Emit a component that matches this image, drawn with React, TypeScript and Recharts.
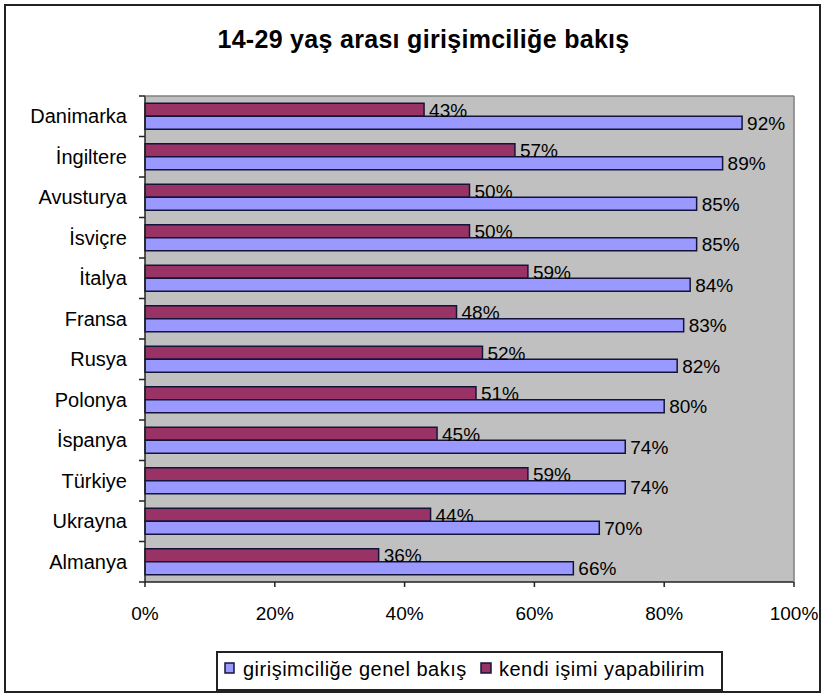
import React from 'react';
import { BarChart, Bar, XAxis, YAxis, CartesianGrid, LabelList } from 'recharts';

const countries = ['Danimarka', 'İngiltere', 'Avusturya', 'İsviçre', 'İtalya', 'Fransa', 'Rusya', 'Polonya', 'İspanya', 'Türkiye', 'Ukrayna', 'Almanya'];
const genelBakis = [92, 89, 85, 85, 84, 83, 82, 80, 74, 74, 70, 66];
const kendiIsim = [43, 57, 50, 50, 59, 48, 52, 51, 45, 59, 44, 36];
const xTicks = [0, 20, 40, 60, 80, 100];
const seriesNames = ['girişimciliğe genel bakış', 'kendi işimi yapabilirim'];
const title = '14-29 yaş arası girişimciliğe bakış';

const data = countries.map((c, i) => ({ country: c, genel: genelBakis[i], kendi: kendiIsim[i] }));

const FONT = '"Liberation Sans", Arial, sans-serif';
const BLUE = '#9999FF';
const MAROON = '#993366';
const OUTLINE = '#14143a';

const PLOT_LEFT = 145;
const PLOT_TOP = 96;
const PLOT_RIGHT = 794;
const PLOT_BOTTOM = 582;
const bandBoundaries = Array.from({ length: countries.length + 1 }, (_, i) => PLOT_TOP + (i * (PLOT_BOTTOM - PLOT_TOP)) / countries.length);

export default function App() {
  return (
    <div style={{ position: 'absolute', left: 0, top: 0, width: 825, height: 695, background: '#fff', fontFamily: FONT }}>
      <BarChart
        width={825}
        height={695}
        layout="vertical"
        data={data}
        margin={{ top: PLOT_TOP, right: 825 - PLOT_RIGHT, bottom: 63, left: 0 }}
        barCategoryGap="18%"
        barGap={0}
      >
        <CartesianGrid horizontal={false} vertical={false} fill="#C0C0C0" stroke="none" />
        <XAxis
          type="number"
          domain={[0, 100]}
          ticks={xTicks}
          tickFormatter={(v) => `${v}%`}
          height={50}
          tickSize={5}
          tickMargin={20}
          axisLine={{ stroke: '#222', strokeWidth: 1.5 }}
          tickLine={{ stroke: '#222', strokeWidth: 1.5 }}
          tick={{ fill: '#000', fontSize: 19, fontFamily: FONT }}
          interval={0}
        />
        <YAxis
          type="category"
          dataKey="country"
          width={PLOT_LEFT}
          tickSize={0}
          tickMargin={18}
          tickLine={false}
          axisLine={{ stroke: '#222', strokeWidth: 1.5 }}
          tick={{ fill: '#000', fontSize: 20, fontFamily: FONT }}
          interval={0}
        />
        <Bar dataKey="kendi" name={seriesNames[1]} fill={MAROON} stroke={OUTLINE} strokeWidth={1.5} isAnimationActive={false}>
          <LabelList dataKey="kendi" position="right" offset={5} formatter={(v) => `${v}%`} fill="#000" fontSize={19} fontFamily={FONT} />
        </Bar>
        <Bar dataKey="genel" name={seriesNames[0]} fill={BLUE} stroke={OUTLINE} strokeWidth={1.5} isAnimationActive={false}>
          <LabelList dataKey="genel" position="right" offset={5} formatter={(v) => `${v}%`} fill="#000" fontSize={19} fontFamily={FONT} />
        </Bar>
      </BarChart>
      <svg width={825} height={695} style={{ position: 'absolute', left: 0, top: 0, pointerEvents: 'none' }}>
        <rect x={5} y={5} width={815} height={687} fill="none" stroke="#222" strokeWidth={2} />
        <text x={423.5} y={48} textAnchor="middle" fontSize={25} fontWeight="bold" fontFamily={FONT} letterSpacing={0.3} fill="#000">
          {title}
        </text>
        <line x1={PLOT_LEFT} y1={PLOT_TOP} x2={PLOT_RIGHT} y2={PLOT_TOP} stroke="#808080" strokeWidth={1.5} />
        <line x1={PLOT_RIGHT} y1={PLOT_TOP} x2={PLOT_RIGHT} y2={PLOT_BOTTOM} stroke="#808080" strokeWidth={1.5} />
        {bandBoundaries.map((yy, i) => (
          <line key={i} x1={PLOT_LEFT - 6} y1={yy} x2={PLOT_LEFT} y2={yy} stroke="#222" strokeWidth={1.5} />
        ))}
        <rect x={217} y={652} width={505} height={38} fill="#fff" stroke="#222" strokeWidth={2} />
        <rect x={225} y={663} width={9} height={10} fill={BLUE} stroke={OUTLINE} strokeWidth={1.5} />
        <text x={243} y={676} fontSize={20} fontFamily={FONT} letterSpacing={0.5} fill="#000">{seriesNames[0]}</text>
        <rect x={481} y={663} width={10} height={10} fill={MAROON} stroke={OUTLINE} strokeWidth={1.5} />
        <text x={499} y={676} fontSize={20} fontFamily={FONT} letterSpacing={0.5} fill="#000">{seriesNames[1]}</text>
      </svg>
    </div>
  );
}
